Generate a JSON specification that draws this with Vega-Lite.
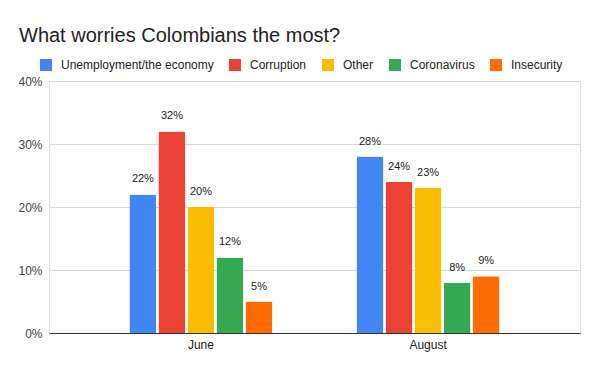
{
  "$schema": "https://vega.github.io/schema/vega-lite/v6.json",
  "autosize": "none",
  "width": 531,
  "height": 252,
  "padding": {"left": 49, "top": 81, "right": 20, "bottom": 37},
  "background": "white",
  "title": {
    "text": "What worries Colombians the most?",
    "anchor": "start",
    "frame": "group",
    "dx": -30,
    "dy": 30,
    "font": "Liberation Sans",
    "fontSize": 20,
    "fontWeight": "normal",
    "color": "#222222",
    "offset": 43
  },
  "data": {
    "values": [
      {"month": "June", "concern": "Unemployment/the economy", "value": 0.22},
      {"month": "June", "concern": "Corruption", "value": 0.32},
      {"month": "June", "concern": "Other", "value": 0.20},
      {"month": "June", "concern": "Coronavirus", "value": 0.12},
      {"month": "June", "concern": "Insecurity", "value": 0.05},
      {"month": "August", "concern": "Unemployment/the economy", "value": 0.28},
      {"month": "August", "concern": "Corruption", "value": 0.24},
      {"month": "August", "concern": "Other", "value": 0.23},
      {"month": "August", "concern": "Coronavirus", "value": 0.08},
      {"month": "August", "concern": "Insecurity", "value": 0.09}
    ]
  },
  "encoding": {
    "x": {
      "field": "month",
      "type": "nominal",
      "sort": ["June", "August"],
      "scale": {"paddingInner": 0.37, "paddingOuter": 0.354},
      "axis": {
        "title": null,
        "labelAngle": 0,
        "labelFont": "Liberation Sans",
        "labelFontSize": 12,
        "labelColor": "#222222",
        "labelPadding": 6,
        "ticks": false,
        "domainColor": "#333333",
        "domainWidth": 1
      }
    },
    "xOffset": {
      "field": "concern",
      "type": "nominal",
      "sort": ["Unemployment/the economy", "Corruption", "Other", "Coronavirus", "Insecurity"],
      "scale": {"paddingInner": 0.07}
    },
    "y": {
      "field": "value",
      "type": "quantitative",
      "scale": {"domain": [0, 0.4]},
      "axis": {
        "title": null,
        "format": ".0%",
        "values": [0, 0.1, 0.2, 0.3, 0.4],
        "labelFont": "Liberation Sans",
        "labelFontSize": 12,
        "labelColor": "#444444",
        "labelPadding": 7,
        "ticks": false,
        "domain": false,
        "gridColor": "#d9d9d9",
        "gridWidth": 1
      }
    }
  },
  "layer": [
    {
      "mark": {"type": "bar", "cornerRadiusTopLeft": 1, "cornerRadiusTopRight": 1},
      "encoding": {
        "color": {
          "field": "concern",
          "type": "nominal",
          "sort": ["Unemployment/the economy", "Corruption", "Other", "Coronavirus", "Insecurity"],
          "scale": {
            "domain": ["Unemployment/the economy", "Corruption", "Other", "Coronavirus", "Insecurity"],
            "range": ["#4285F4", "#EA4335", "#FBBC04", "#34A853", "#FF6D01"]
          },
          "legend": {
            "title": null,
            "orient": "none",
            "direction": "horizontal",
            "legendX": -9,
            "legendY": -22,
            "symbolType": "square",
            "symbolSize": 144,
            "symbolStrokeWidth": 0,
            "symbolOpacity": 1,
            "labelFont": "Liberation Sans",
            "labelFontSize": 12,
            "labelColor": "#222222",
            "labelOffset": 9,
            "columnPadding": 15,
            "columns": 5
          }
        }
      }
    },
    {
      "mark": {
        "type": "text",
        "baseline": "bottom",
        "dy": -10,
        "font": "Liberation Sans",
        "fontSize": 11,
        "color": "#222222"
      },
      "encoding": {
        "text": {"field": "value", "type": "quantitative", "format": ".0%"}
      }
    }
  ]
}
